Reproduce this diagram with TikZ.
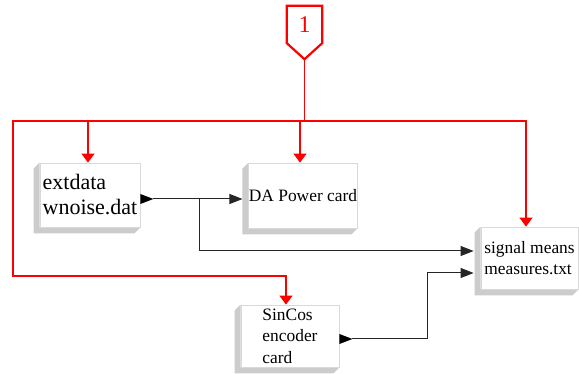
\documentclass[tikz,border=0pt]{standalone}
\usepackage{fontspec}
\setmainfont{Liberation Serif}
\usetikzlibrary{arrows.meta,calc}
\pgfdeclarelayer{shadow}
\pgfsetlayers{shadow,main}
\begin{document}
\begin{tikzpicture}[x=1pt,y=-1pt,
  box/.style={draw=black!15, line width=0.8pt, fill=white, inner sep=0pt, align=left,
    font=\fontsize{17.4}{21.5}\selectfont},
  conn/.style={draw=black!85, line width=1pt},
  marker/.style={fill=black},
  blackhead/.style={-{Triangle[length=13pt,width=10pt]}},
  redline/.style={draw=red, line width=1.2pt},
  redhead/.style={{Triangle[length=9pt,width=13pt]}-{Triangle[length=9pt,width=13pt]}},
  redend/.style={-{Triangle[length=9pt,width=13pt]}},
  shade/.style={fill=black!20}
]
\useasboundingbox (0,0) rectangle (579,374);

% boxes
\node[box, minimum width=100pt, minimum height=64pt, font=\fontsize{22}{25}\selectfont] (ext) at (90,195) {extdata\\wnoise.dat};
\node[box, minimum width=100pt, minimum height=65pt] (da) at (303,195.5) {DA Power card};
\node[box, minimum width=97pt, minimum height=62pt] (sig) at (529.5,258) {signal means\\measures.txt};
\node[box, minimum width=98pt, minimum height=62pt] (sin) at (290,336) {SinCos\\encoder\\card};

% source pentagon
\node[inner sep=0pt, minimum width=35pt, minimum height=37pt, text=red, font=\fontsize{24}{24}\selectfont] (src) at (304.5,24.5) {1};
\coordinate (srcpt) at ($(src.south)+(0,16)$);

\begin{pgfonlayer}{shadow}
  \foreach \n in {ext,da,sig,sin}{
    \fill[shade] (\n.north west) -- ($(\n.north west)+(-6,6)$) -- ($(\n.south west)+(-6,6)$)
      -- ($(\n.south east)+(-6,6)$) -- (\n.south east) -- (\n.south west) -- cycle;
  }
  \draw[red, line width=2.2pt, fill=white, line join=miter]
    (src.north west) -- (src.north east) -- (src.south east) -- (srcpt) -- (src.south west) -- cycle;
\end{pgfonlayer}

% red bus
\coordinate (busL) at (13,121);
\coordinate (busR) at (526,121);
\coordinate (tapExt) at (88,121);
\coordinate (tapDA) at (300,121);
\coordinate (tapSin) at (286,276);
\draw[redline] (srcpt) -- (srcpt |- busL);
\draw[redline, redhead, line join=miter] (busR |- sig.north) -- (busR) -- (busL) -- (busL |- tapSin) -- (tapSin) -- (tapSin |- sin.north);
\draw[redline, redend] (tapExt) -- (tapExt |- ext.north);
\draw[redline, redend] (tapDA) -- (tapDA |- da.north);

% black connectors
\coordinate (extport) at ($(ext.east)+(0,4)$);
\coordinate (extout) at ($(extport)+(13,0)$);
\fill[marker] ($(extport)+(0,-5)$) -- (extout) -- ($(extport)+(0,5)$) -- cycle;
\coordinate (dain) at ($(da.west |- extport)+(-6,0)$);
\draw[conn, blackhead] (extout) -- (dain);

\coordinate (split) at (199,199);
\coordinate (sigin1) at ($(sig.west)+(-7,-7)$);
\coordinate (sigin2) at ($(sig.west)+(-7,15)$);
\draw[conn, blackhead] (split) |- (sigin1);

\coordinate (sinport) at ($(sin.east)+(0,3)$);
\coordinate (sinout) at ($(sinport)+(13,0)$);
\fill[marker] ($(sinport)+(0,-5)$) -- (sinout) -- ($(sinport)+(0,5)$) -- cycle;
\coordinate (bendx) at (427,300);
\draw[conn, blackhead] (sinout) -- (sinout -| bendx) |- (sigin2);
\end{tikzpicture}
\end{document}
